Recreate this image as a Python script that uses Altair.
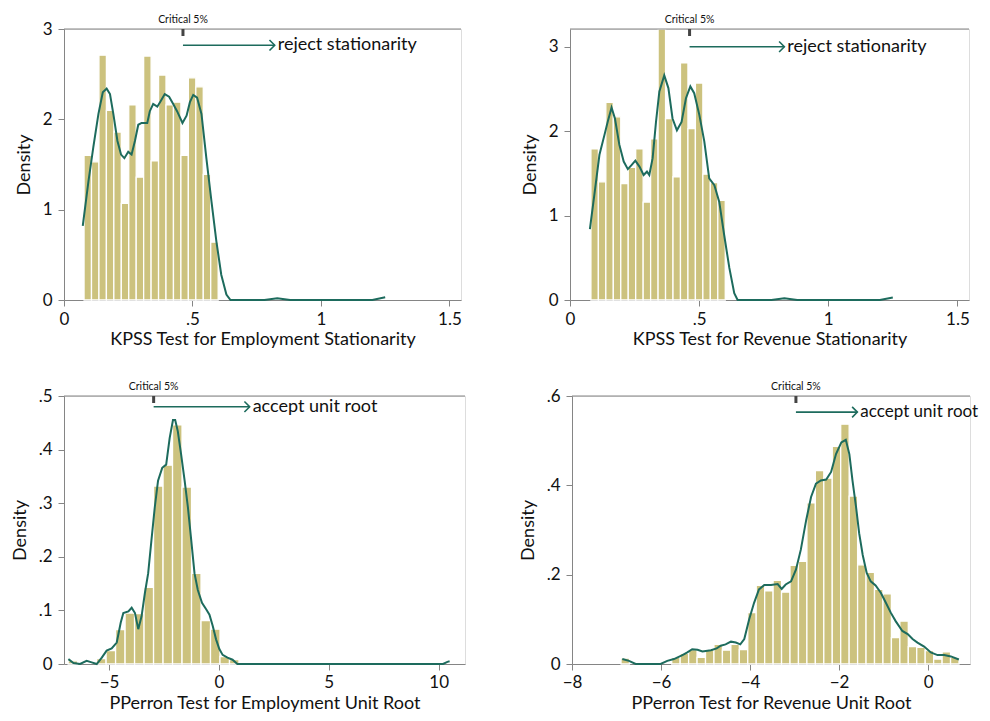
import altair as alt
import pandas as pd

FONT = "Lato"
BAR = "#ccc27e"
LINE = "#1d6b5d"
AXIS = "#858585"
TXT = "#111111"

# ---------------- data ----------------
# Panel 1: KPSS employment
emp_kpss_bin_start = 0.078
emp_kpss_bin_width = 0.029
emp_kpss_density = [1.60, 1.53, 2.71, 2.10, 1.86, 1.07, 2.16, 1.36, 2.70, 1.54,
                    2.49, 2.16, 2.19, 1.60, 2.46, 2.36, 1.39, 0.64]
emp_kpss_curve_x = [0.073, 0.095, 0.114, 0.134, 0.151, 0.166, 0.179, 0.192, 0.208, 0.222,
                    0.235, 0.250, 0.263, 0.276, 0.289, 0.302, 0.324, 0.334, 0.347, 0.363,
                    0.376, 0.392, 0.409, 0.425, 0.440, 0.461, 0.477, 0.490, 0.503, 0.518,
                    0.535, 0.554, 0.574, 0.593, 0.612, 0.632, 0.648, 0.78, 0.83, 0.88,
                    1.20, 1.25]
emp_kpss_curve_y = [0.82, 1.31, 1.69, 2.06, 2.30, 2.34, 2.28, 2.06, 1.76, 1.61,
                    1.57, 1.64, 1.61, 1.76, 1.94, 1.96, 1.96, 2.09, 2.17, 2.14,
                    2.20, 2.28, 2.25, 2.17, 2.09, 1.96, 2.04, 2.19, 2.27, 2.24,
                    2.06, 1.57, 1.09, 0.65, 0.28, 0.06, 0.0, 0.0, 0.02, 0.0,
                    0.0, 0.03]

# Panel 2: KPSS revenue
rev_kpss_bin_start = 0.081
rev_kpss_bin_width = 0.0289
rev_kpss_density = [1.79, 1.40, 2.34, 2.17, 1.38, 1.57, 1.79, 1.16, 1.91, 3.21,
                    2.15, 1.46, 2.81, 2.03, 2.57, 1.49, 1.39, 1.18]
rev_kpss_curve_x = [0.077, 0.094, 0.114, 0.133, 0.146, 0.161, 0.174, 0.191, 0.208, 0.224,
                    0.239, 0.253, 0.269, 0.285, 0.298, 0.307, 0.320, 0.333, 0.346, 0.365,
                    0.381, 0.397, 0.414, 0.432, 0.449, 0.466, 0.481, 0.501, 0.520, 0.539,
                    0.559, 0.578, 0.597, 0.617, 0.636, 0.649, 0.78, 0.83, 0.88, 1.20,
                    1.25]
rev_kpss_curve_y = [0.84, 1.24, 1.72, 1.95, 2.11, 2.28, 2.15, 1.84, 1.64, 1.55,
                    1.60, 1.65, 1.58, 1.48, 1.52, 1.48, 1.68, 2.11, 2.47, 2.66,
                    2.51, 2.15, 2.01, 2.11, 2.39, 2.53, 2.45, 2.19, 1.88, 1.44,
                    1.36, 1.16, 0.77, 0.38, 0.08, 0.0, 0.0, 0.02, 0.0, 0.0,
                    0.03]

# Panel 3: Phillips-Perron employment
emp_pp_bin_start = -6.862
emp_pp_bin_width = 0.432
emp_pp_density = [0.006, 0.0, 0.0, 0.010, 0.025, 0.064, 0.095, 0.094, 0.143, 0.332,
                  0.371, 0.446, 0.330, 0.169, 0.081, 0.065, 0.014, 0.008]
emp_pp_curve_x = [-6.85, -6.62, -6.32, -6.02, -5.79, -5.56, -5.33, -5.11, -4.88, -4.65,
                  -4.47, -4.35, -4.12, -3.97, -3.82, -3.67, -3.52, -3.37, -3.22, -3.07,
                  -2.92, -2.77, -2.58, -2.40, -2.24, -2.09, -1.99, -1.87, -1.72, -1.56,
                  -1.41, -1.26, -1.11, -0.96, -0.77, -0.58, -0.43, -0.28, -0.13, 0.02,
                  0.17, 0.39, 0.62, 0.84, 10.2, 10.4, 10.5]
emp_pp_curve_y = [0.009, 0.002, 0.0, 0.006, 0.003, 0.0, 0.012, 0.025, 0.029, 0.040,
                  0.077, 0.095, 0.098, 0.105, 0.095, 0.065, 0.089, 0.132, 0.169, 0.231,
                  0.292, 0.342, 0.366, 0.372, 0.422, 0.455, 0.455, 0.434, 0.391, 0.342,
                  0.292, 0.231, 0.169, 0.138, 0.114, 0.102, 0.092, 0.071, 0.046, 0.028,
                  0.017, 0.012, 0.008, 0.0, 0.0, 0.004, 0.005]

# Panel 4: Phillips-Perron revenue
rev_pp_bin_start = -6.899
rev_pp_bin_width = 0.1898
rev_pp_density = [0.013, 0.0, 0.0, 0.0, 0.0, 0.0,
                  0.015, 0.024, 0.032, 0.015, 0.033, 0.044, 0.031, 0.044, 0.032, 0.115,
                  0.176, 0.164, 0.187, 0.161, 0.221, 0.230, 0.361, 0.433, 0.416, 0.487,
                  0.537, 0.376, 0.222, 0.205, 0.167, 0.157, 0.059, 0.096, 0.039, 0.037,
                  0.030, 0.011, 0.027, 0.015]
rev_pp_curve_x = [-6.87, -6.72, -6.57, -6.01, -5.86, -5.71, -5.52, -5.41, -5.30, -5.18,
                  -5.07, -4.88, -4.75, -4.66, -4.55, -4.43, -4.32, -4.22, -4.13, -4.02,
                  -3.91, -3.80, -3.68, -3.53, -3.38, -3.29, -3.20, -3.08, -2.97, -2.86,
                  -2.74, -2.63, -2.52, -2.41, -2.29, -2.18, -2.07, -1.95, -1.85, -1.77,
                  -1.70, -1.62, -1.55, -1.47, -1.38, -1.29, -1.18, -1.06, -0.95, -0.84,
                  -0.73, -0.58, -0.46, -0.35, -0.24, -0.09, 0.06, 0.21, 0.36, 0.51,
                  0.69]
rev_pp_curve_y = [0.011, 0.007, 0.0, 0.0, 0.007, 0.011, 0.020, 0.026, 0.033, 0.032,
                  0.028, 0.031, 0.035, 0.041, 0.044, 0.050, 0.048, 0.044, 0.056, 0.100,
                  0.137, 0.167, 0.177, 0.177, 0.179, 0.168, 0.178, 0.185, 0.211, 0.256,
                  0.322, 0.374, 0.404, 0.411, 0.413, 0.430, 0.470, 0.496, 0.502, 0.470,
                  0.411, 0.352, 0.293, 0.244, 0.204, 0.185, 0.176, 0.159, 0.137, 0.115,
                  0.096, 0.074, 0.067, 0.056, 0.048, 0.039, 0.026, 0.020, 0.020, 0.017,
                  0.010]

# annotations
crit_kpss = 0.463
crit_pp = -2.97
notes = ["reject stationarity", "reject stationarity", "accept unit root", "accept unit root"]
arrow_end = [0.82, 0.83, 1.4, -1.59]
arrow_y = [2.82, 3.0, 0.48, 0.564]

x_titles = ["KPSS Test for Employment Stationarity", "KPSS Test for Revenue Stationarity",
            "PPerron Test for Employment Unit Root", "PPerron Test for Revenue Unit Root"]

LABEL_EXPR = "datum.value > 0 && datum.value < 1 ? substring(datum.label, 1) : datum.label"


def bars_frame(start, width, dens):
    rows = []
    for i, d in enumerate(dens):
        if d > 0:
            rows.append({"x0": start + i * width, "x1": start + (i + 1) * width, "d": d})
    return pd.DataFrame(rows)


def panel(bars, cx, cy, xdom, xticks, ydom, yticks, xtitle, crit, aend, ay, note, W, H,
          xlab_pad, xtitle_pad, note_size):
    xs = alt.Scale(domain=xdom, nice=False, zero=False)
    ys = alt.Scale(domain=ydom, nice=False, zero=False)
    common = dict(grid=False, tickSize=6, domainColor=AXIS, tickColor=AXIS,
                  labelFontSize=17, titleFontSize=18, labelColor=TXT, titleColor=TXT,
                  titleFontWeight="normal", labelFlush=False, labelOverlap=False,
                  labelFont=FONT, titleFont=FONT, format=".2~f", labelExpr=LABEL_EXPR)
    xaxis = alt.Axis(values=xticks, title=xtitle, labelPadding=xlab_pad,
                     titlePadding=xtitle_pad, **common)
    yaxis = alt.Axis(values=yticks, title="Density", labelPadding=6, titlePadding=9,
                     labelAngle=0, **common)

    def X(f):
        return alt.X(f, scale=xs, axis=xaxis)

    def Y(f):
        return alt.Y(f, scale=ys, axis=yaxis)

    curve = pd.DataFrame({"x": cx, "y": cy})
    ann = pd.DataFrame({"crit": [crit], "end": [aend], "ay": [ay], "note": [note]})

    b = alt.Chart(bars).mark_bar(color=BAR, stroke="white", strokeWidth=1.3).encode(
        x=X("x0:Q"), x2="x1:Q", y=Y("d:Q"), y2=alt.datum(0))
    c = alt.Chart(curve).mark_line(color=LINE, strokeWidth=2).encode(x=X("x:Q"), y=Y("y:Q"))
    top = alt.Chart(ann).mark_rule(color=AXIS, strokeWidth=1).encode(
        x=alt.value(0), x2=alt.value(W), y=alt.value(0))
    tick = alt.Chart(ann).mark_rule(color="#444444", strokeWidth=3).encode(
        x=X("crit:Q"), y=alt.value(0), y2=alt.value(7))
    crit_lab = alt.Chart(ann).mark_text(text="Critical 5%", fontSize=10.5, font=FONT,
                                        color=TXT, baseline="alphabetic").encode(
        x=X("crit:Q"), y=alt.value(-6))
    arrow = alt.Chart(ann).mark_rule(color=LINE, strokeWidth=1.6).encode(
        x=X("crit:Q"), x2="end:Q", y=Y("ay:Q"))
    head = alt.Chart(ann).mark_point(shape="M-1,-1L0,0L-1,1", filled=False, size=110,
                                     strokeWidth=1.6, color=LINE, opacity=1).encode(
        x=X("end:Q"), y=Y("ay:Q"))
    lab = alt.Chart(ann).mark_text(align="left", baseline="middle", dx=3, fontSize=note_size,
                                   font=FONT, color=TXT).encode(
        x=X("end:Q"), y=Y("ay:Q"), text="note:N")
    return alt.layer(b, c, top, tick, crit_lab, arrow, head, lab).properties(width=W, height=H)


p1 = panel(bars_frame(emp_kpss_bin_start, emp_kpss_bin_width, emp_kpss_density),
           emp_kpss_curve_x, emp_kpss_curve_y, [0, 1.545], [0, 0.5, 1, 1.5], [0, 3], [0, 1, 2, 3],
           x_titles[0], crit_kpss, arrow_end[0], arrow_y[0], notes[0], 397, 271, 5, 3, 18)
p2 = panel(bars_frame(rev_kpss_bin_start, rev_kpss_bin_width, rev_kpss_density),
           rev_kpss_curve_x, rev_kpss_curve_y, [0, 1.545], [0, 0.5, 1, 1.5], [0, 3.21], [0, 1, 2, 3],
           x_titles[1], crit_kpss, arrow_end[1], arrow_y[1], notes[1], 399, 271, 5, 3, 18)
p3 = panel(bars_frame(emp_pp_bin_start, emp_pp_bin_width, emp_pp_density),
           emp_pp_curve_x, emp_pp_curve_y, [-7.05, 11.2], [-5, 0, 5, 10], [0, 0.5],
           [0, 0.1, 0.2, 0.3, 0.4, 0.5],
           x_titles[2], crit_pp, arrow_end[2], arrow_y[2], notes[2], 401, 268, 4, 4, 18)
p4 = panel(bars_frame(rev_pp_bin_start, rev_pp_bin_width, rev_pp_density),
           rev_pp_curve_x, rev_pp_curve_y, [-8, 0.94], [-8, -6, -4, -2, 0], [0, 0.6],
           [0, 0.2, 0.4, 0.6],
           x_titles[3], crit_pp, arrow_end[3], arrow_y[3], notes[3], 398, 268, 4, 4, 17)

chart = alt.vconcat(
    alt.hconcat(p1, p2, spacing=58, center=False),
    alt.hconcat(p3, p4, spacing=52, center=False),
    spacing=32, center=False,
).properties(
    padding={"left": 2, "top": 6, "right": 0, "bottom": 0}
).configure_view(stroke=None).configure(font=FONT)

chart.save("out.html", embed_options={"renderer": "svg", "actions": False})
